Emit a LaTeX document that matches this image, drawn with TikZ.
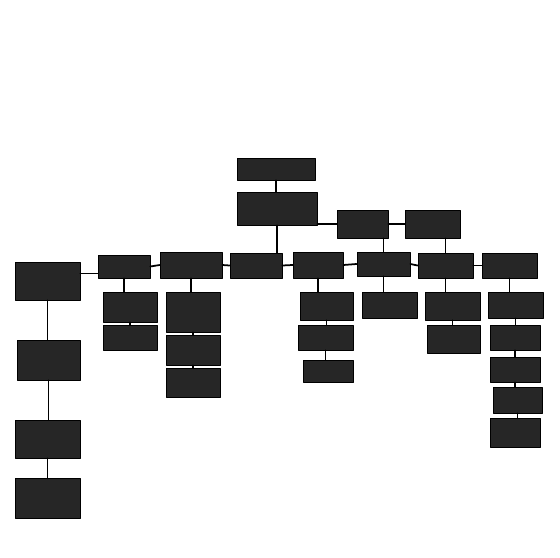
\documentclass[tikz,border=0pt]{standalone}
\usetikzlibrary{calc}
\begin{document}
\begin{tikzpicture}[x=0.02cm,y=-0.02cm,line join=round,line cap=round,
	box/.style={draw=black,fill=black!85,inner sep=0pt},
	link/.style={draw=black,line width=1pt}]
	\useasboundingbox (0,0) rectangle (560,557);
	% khung: ten/x/y/rong/cao
	\foreach \n/\x/\y/\w/\h in {T1/276/169/78/22,T2/277/208.5/80/33,
		R1/362.5/224/51/28,R2/432.5/224/55/28,
		A/47.5/281/65/38,A2/48.5/360/63/40,A3/47.5/439/65/38,A4/47.5/498/65/40,
		B/124/266.5/52/23,B2/130/307/54/30,B3/130/337.5/54/25,
		C/191/265/62/26,C2/193/312/54/40,C3/193/350/54/30,C4/193/382.5/54/29,
		D/256/265.5/52/25,
		E/318/265/50/26,E2/326.5/306/53/28,E3/325.5/337.5/55/25,E4/328/371/50/22,
		F/383.5/264/53/24,F2/389.5/305/55/26,
		G/445.5/265.5/55/25,G2/452.5/306/55/28,G3/453.5/339/53/28,
		H/509.5/265.5/55/25,H2/515.5/305/55/26,H3/515/337.5/50/25,
		H4/515/369.5/50/25,H5/517.5/400/49/26,H6/515/432.5/50/29}
	{\node[box,minimum width=\w*0.02cm,minimum height=\h*0.02cm] (\n) at (\x,\y) {};}
	\draw[link] (T1.south)--(T1.south |- T2.north)
		(R1.west -| T2.east)--(R1.west) (R1.east)--(R2.west)
		(T2.south)--(T2.south |- D.north)
		(R1.south -| F.north)--(F.north) (R2.south -| G.north)--(G.north);
	\draw[link] ($(B.west)!.6!(B.south west)$) coordinate (ab) -- (ab -| A.east);
	\foreach \a/\b in {B/C,C/D,D/E,E/F,F/G,G/H}
		{\draw[link] (\a.east)--(\b.west);}
	\foreach \a/\b in {A/A2,A2/A3,A3/A4,B/B2,B2/B3,C/C2,C2/C3,C3/C4,
		E/E2,E2/E3,E3/E4,F/F2,G/G2,G2/G3,H/H2,H2/H3,H3/H4,H4/H5,H5/H6}
		{\draw[link] (\a.south)--(\a.south |- \b.north);}
\end{tikzpicture}
\end{document}
